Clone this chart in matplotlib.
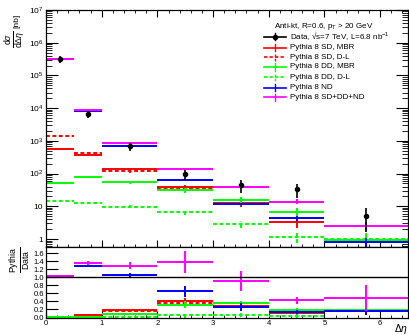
import matplotlib
matplotlib.use("Agg")
import matplotlib.pyplot as plt
from matplotlib.lines import Line2D
import numpy as np

plt.rcParams['font.family'] = ['Liberation Sans', 'DejaVu Sans']
plt.rcParams['mathtext.fontset'] = 'custom'
plt.rcParams['mathtext.rm'] = 'Liberation Sans'
plt.rcParams['mathtext.it'] = 'Liberation Sans:italic'
plt.rcParams['mathtext.sf'] = 'Liberation Sans'

# bins in delta eta
edges = [0, 0.5, 1, 2, 3, 4, 5, 6.5]
data_x = [0.25, 0.75, 1.5, 2.5, 3.5, 4.5, 5.75]

# measured cross section [nb]
data = [3.2e5, 6.6e3, 690, 97, 44, 33, 5.2]
data_err = [0.8e5, 1.6e3, 200, 35, 18, 15, 3.6]

# Pythia 8 predictions [nb]
sd_mbr = [570, 365, 134, 40, 12.5, 3.3, 0.85]
sd_dl = [1380, 430, 117, 35.5, 12.8, 4.3, 0.88]
dd_mbr = [53, 76, 54, 31, 15.3, 6.5, 0.95]
dd_dl = [14.3, 13, 9.8, 6.5, 2.9, 1.17, 1.0]
nd = [3.26e5, 8.45e3, 720, 63, 11.8, 4.3, 0.8]
total = [3.27e5, 8.9e3, 890, 134, 40, 14, 2.5]

# relative stat. errors of the predictions
mc_relerr = [0.02, 0.04, 0.08, 0.15, 0.25, 0.35, 0.5]
tot_relerr = [0.01, 0.02, 0.04, 0.06, 0.1, 0.17, 0.3]

# errors shown in the ratio panel
ratio_err_tot = [0.01, 0.05, 0.08, 0.28, 0.25, 0.09, 0.33]
ratio_err_nd = [0.01, 0.03, 0.07, 0.13, 0.1, 0.05, 0.09]
ratio_err_other = [0.0, 0.01, 0.02, 0.08, 0.06, 0.05, 0.08]

labels = ['Pythia 8 SD, MBR', 'Pythia 8 SD, D-L', 'Pythia 8 DD, MBR',
          'Pythia 8 DD, D-L', 'Pythia 8 ND', 'Pythia 8 SD+DD+ND']

W, H = 409, 335
fig = plt.figure(figsize=(W / 100, H / 100), dpi=100)
ax1 = fig.add_axes([46 / W, 88 / H, 362 / W, 237 / H])
ax2 = fig.add_axes([46 / W, 17.5 / H, 362 / W, 70.5 / H])

edges = np.array(edges)
xc = 0.5 * (edges[:-1] + edges[1:])
xhw = 0.5 * (edges[1:] - edges[:-1])
dashed = (0, (2, 1.3))

series = [
    (sd_mbr, 'red', '-', mc_relerr, ratio_err_other),
    (sd_dl, 'red', dashed, mc_relerr, ratio_err_other),
    (dd_mbr, '#00ff00', '-', mc_relerr, ratio_err_other),
    (dd_dl, '#00ff00', dashed, mc_relerr, ratio_err_other),
    (nd, 'blue', '-', tot_relerr, ratio_err_nd),
    (total, 'magenta', '-', tot_relerr, ratio_err_tot),
]

d = np.array(data)
for vals, col, ls, rel, rerr in series:
    v = np.array(vals)
    eb = ax1.errorbar(xc, v, xerr=xhw, yerr=v * np.array(rel), fmt='none',
                      ecolor=col, elinewidth=1.4)
    for c in eb[2]:
        c.set_linestyle(ls)
    r = v / d
    eb2 = ax2.errorbar(xc, r, xerr=xhw, yerr=rerr, fmt='none',
                       ecolor=col, elinewidth=1.4)
    for c in eb2[2]:
        c.set_linestyle(ls)

ax1.errorbar(data_x, data, yerr=data_err, fmt='o', color='black', ms=3,
             elinewidth=1.2, capsize=0, zorder=5)

# top panel axes
ax1.set_yscale('log')
ax1.set_xlim(0, 6.5)
ax1.set_ylim(0.57, 1e7)
ax1.set_yticks([1, 10, 1e2, 1e3, 1e4, 1e5, 1e6, 1e7])
ax1.set_yticklabels(['1', '10', '$10^2$', '$10^3$', '$10^4$', '$10^5$',
                     '$10^6$', '$10^7$'])
ax1.yaxis.set_minor_locator(matplotlib.ticker.LogLocator(10, subs=np.arange(2, 10)))
ax1.yaxis.set_minor_formatter(matplotlib.ticker.NullFormatter())
ax1.set_xticks(range(7))
ax1.set_xticks(np.arange(0, 6.5, 0.2), minor=True)
ax1.set_xticklabels([])
ax1.tick_params(which='both', direction='in', top=True, right=True,
                labelsize=6, pad=2)
ax1.tick_params(axis='y', which='major', length=8.5, width=0.8)
ax1.tick_params(axis='y', which='minor', length=4.3, width=0.6)
ax1.tick_params(axis='x', which='major', length=5, width=0.8)
ax1.tick_params(axis='x', which='minor', length=2.5, width=0.6)

# ratio panel axes
ax2.axhline(1, color='black', lw=1)
ax2.set_xlim(0, 6.5)
ax2.set_ylim(0, 1.75)
ax2.set_yticks(np.arange(0, 1.61, 0.2))
ax2.set_yticklabels(['%.1f' % t for t in np.arange(0, 1.61, 0.2)])
ax2.set_xticks(range(7))
ax2.set_xticks(np.arange(0, 6.5, 0.2), minor=True)
ax2.tick_params(which='both', direction='in', top=False, right=False,
                labelsize=5.5, pad=1.5)
ax2.tick_params(axis='y', which='major', length=8.5, width=0.8)
ax2.tick_params(axis='x', which='major', length=5, width=0.8)
ax2.tick_params(axis='x', which='minor', length=2.5, width=0.6)
for ax in (ax1, ax2):
    for s in ax.spines.values():
        s.set_linewidth(0.9)

# axis titles
fig.text(17 / W, 1 - 14 / H, '[nb]', rotation=90, ha='center', va='top',
         fontsize=6)
fig.text(15 / W, 1 - 30 / H, r'$\frac{\mathrm{d}\sigma}{\mathrm{d}\Delta\eta}$',
         rotation=90, ha='center', va='top', fontsize=9)
fig.text(21 / W, 1 - 260 / H, r'$\frac{\mathrm{Pythia}}{\mathrm{Data}}$',
         rotation=90, ha='center', va='center', fontsize=9)
fig.text(408 / W, 1 - 329 / H, r'$\Delta\eta$', ha='right', va='center',
         fontsize=7.5)

# legend
fig.text(274 / W, 1 - 26 / H, r'Anti-kt, R=0.6, p$_{\mathrm{T}}$ > 20 GeV',
         ha='left', va='center', fontsize=5.8)
rows_y = [36.5, 47.7, 57.3, 67, 77.3, 87.7, 97.3]
leg_style = [('black', '-')] + [(c, ls) for _, c, ls, _, _ in series]
leg_text = ['Data, √s=7 TeV, L=6.8 nb$^{-1}$'] + labels
for y, (col, ls), txt in zip(rows_y, leg_style, leg_text):
    fy = 1 - y / H
    fig.add_artist(Line2D([264 / W, 286 / W], [fy, fy], color=col, ls=ls, lw=1.2))
    fig.add_artist(Line2D([275 / W, 275 / W], [fy - 3.5 / H, fy + 3.5 / H],
                          color=col, ls=ls, lw=1.0))
    if col == 'black':
        fig.add_artist(Line2D([275 / W], [fy], color='black', marker='o', ms=3))
    fig.text(290 / W, fy, txt, ha='left', va='center', fontsize=5.8)

fig.savefig('out.png', dpi=100)
